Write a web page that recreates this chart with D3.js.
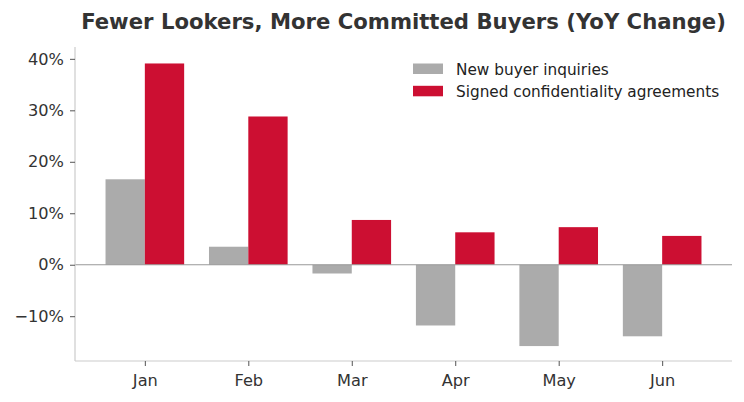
<!DOCTYPE html>
<html><head><meta charset="utf-8">
<script src="https://cdn.jsdelivr.net/npm/d3@7/dist/d3.min.js"></script>
<style>body{margin:0;background:#fff;} svg{display:block;font-family:"DejaVu Sans",sans-serif;}</style>
</head><body>
<svg id="c" width="744" height="402"></svg>
<script>
const months = ["Jan","Feb","Mar","Apr","May","Jun"];
const inquiries = [16.6, 3.5, -1.7, -11.8, -15.8, -13.9];
const agreements = [39.1, 28.8, 8.7, 6.3, 7.3, 5.6];
const seriesNames = ["New buyer inquiries","Signed confidentiality agreements"];
const yTicks = [-10, 0, 10, 20, 30, 40];

const svg = d3.select("#c");
const L = 75, R = 732, T = 47, B = 361;
const x = d3.scaleLinear().domain([-0.675, months.length - 1 + 0.675]).range([L, R]);
const y = d3.scaleLinear().domain([-18.7, 42.3]).range([B, T]);
const bw = 0.38;
const colors = ["#ababab", "#cc0f32"];

// title
svg.append("text").attr("x", (L+R)/2).attr("y", 29).attr("text-anchor","middle")
  .attr("font-size", 21.2).attr("font-weight","bold").attr("fill","#333")
  .text("Fewer Lookers, More Committed Buyers (YoY Change)");

// bars
const series = [inquiries, agreements];
series.forEach((vals, s) => {
  svg.append("g").selectAll("rect").data(vals).join("rect")
    .attr("x", (d,i) => x(s === 0 ? i - bw : i))
    .attr("width", (d,i) => x(i + bw) - x(i))
    .attr("y", d => y(Math.max(0,d)))
    .attr("height", d => Math.abs(y(d) - y(0)))
    .attr("fill", colors[s]);
});

// zero line
svg.append("line").attr("x1", L).attr("x2", R).attr("y1", y(0)).attr("y2", y(0))
  .attr("stroke","#999").attr("stroke-width",1.2);

// axes
const yAxis = d3.axisLeft(y).tickValues(yTicks).tickFormat(d => (d < 0 ? "\u2212" + Math.abs(d) : d) + "%").tickSize(5).tickPadding(6);
const gy = svg.append("g").attr("transform", `translate(${L},0)`).call(yAxis);
const xAxis = d3.axisBottom(x).tickValues(d3.range(months.length)).tickFormat(i => months[i]).tickSize(5).tickPadding(8);
const gx = svg.append("g").attr("transform", `translate(0,${B})`).call(xAxis);
[gx, gy].forEach(g => {
  g.select(".domain").attr("stroke","#cccccc").attr("stroke-width",1.2);
  g.selectAll(".tick line").attr("stroke","#555");
  g.selectAll(".tick text").attr("fill","#333").attr("font-size",16.2).attr("font-family","DejaVu Sans");
});
gy.select(".domain").attr("d", `M0,${T}V${B}`);
gx.select(".domain").attr("d", `M${L},0H${R}`);

// legend
const lg = svg.append("g");
seriesNames.forEach((n, i) => {
  const yy = 63.5 + i * 22.3;
  lg.append("rect").attr("x", 413).attr("y", yy).attr("width", 30).attr("height", 10.5).attr("fill", colors[i]);
  lg.append("text").attr("x", 456).attr("y", yy + 11).attr("font-size", 15.3).attr("fill","#222").text(n);
});
</script>
</body></html>
